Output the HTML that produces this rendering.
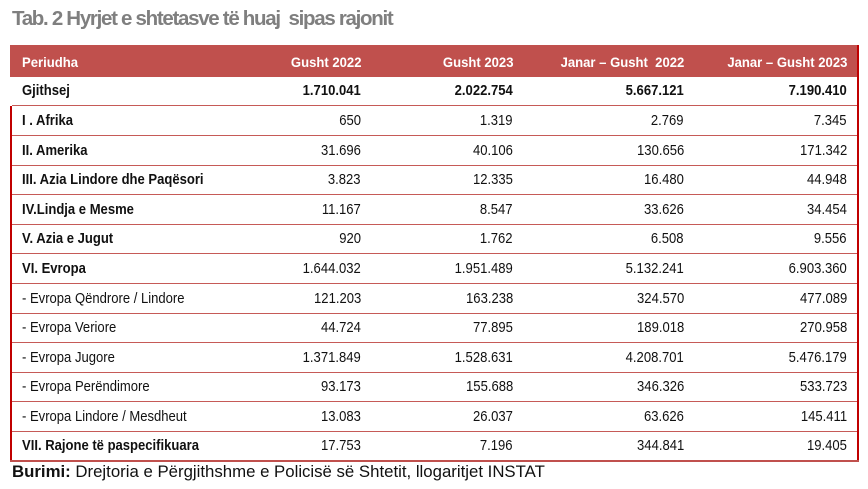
<!DOCTYPE html>
<html>
<head>
<meta charset="utf-8">
<style>
  html,body{margin:0;padding:0;background:#fff;}
  body{width:868px;height:489px;position:relative;overflow:hidden;font-family:"Liberation Sans",Arial,sans-serif;}
  .abs{position:absolute;}
  .title{left:12px;top:9px;font-size:20.5px;line-height:20.5px;font-weight:bold;color:#7f7f7f;letter-spacing:-1.3px;white-space:nowrap;}
  .hdr{left:10px;top:45px;width:848px;height:32px;background:#c0504d;}
  .hc{position:absolute;top:46px;height:32px;line-height:32px;font-size:14px;font-weight:bold;color:#fff;white-space:nowrap;}
  .hc span{display:inline-block;transform:scaleX(0.935);}
  .hl span{transform-origin:left center;}
  .hr span{transform-origin:right center;}
  .c{position:absolute;font-size:15px;color:#111;white-space:nowrap;}
  .c span{display:inline-block;transform:scaleX(0.87);}
  .l span{transform-origin:left center;}
  .r span{transform-origin:right center;}
  .b{font-weight:bold;}
  .line{position:absolute;left:12px;width:845px;height:1px;background:#c65a57;}
  .src{left:12px;top:463px;font-size:16.8px;line-height:17px;color:#111;white-space:nowrap;}
</style>
</head>
<body>
<div class="abs title">Tab. 2 Hyrjet e shtetasve të huaj&nbsp; sipas rajonit</div>

<div class="abs hdr"></div>
<div class="hc hl" style="left:22px;"><span>Periudha</span></div>
<div class="hc hr" style="right:507px;"><span>Gusht 2022</span></div>
<div class="hc hr" style="right:355px;"><span>Gusht 2023</span></div>
<div class="hc hr" style="right:184px;"><span>Janar – Gusht&nbsp; 2022</span></div>
<div class="hc hr" style="right:21px;"><span>Janar – Gusht 2023</span></div>

<!-- borders -->
<div class="abs" style="left:10px;top:106px;width:2px;height:356px;background:#c00000;"></div>
<div class="abs" style="left:857px;top:45px;width:2px;height:417px;background:#c00000;"></div>
<div class="abs" style="left:10px;top:460px;width:849px;height:2px;background:#c0504d;"></div>

<!-- row lines -->
<div class="line" style="top:105px;"></div>
<div class="line" style="top:135px;"></div>
<div class="line" style="top:165px;"></div>
<div class="line" style="top:194px;"></div>
<div class="line" style="top:224px;"></div>
<div class="line" style="top:253px;"></div>
<div class="line" style="top:283px;"></div>
<div class="line" style="top:313px;"></div>
<div class="line" style="top:342px;"></div>
<div class="line" style="top:372px;"></div>
<div class="line" style="top:401px;"></div>
<div class="line" style="top:431px;"></div>

<!-- Row 0 -->
<div class="c l b" style="left:22px;top:77px;height:28px;line-height:28px;"><span>Gjithsej</span></div>
<div class="c r b" style="right:507px;top:77px;height:28px;line-height:28px;"><span>1.710.041</span></div>
<div class="c r b" style="right:355px;top:77px;height:28px;line-height:28px;"><span>2.022.754</span></div>
<div class="c r b" style="right:184px;top:77px;height:28px;line-height:28px;"><span>5.667.121</span></div>
<div class="c r b" style="right:21px;top:77px;height:28px;line-height:28px;"><span>7.190.410</span></div>

<!-- Row 1 -->
<div class="c l b" style="left:22px;top:106px;height:29px;line-height:29px;"><span>I . Afrika</span></div>
<div class="c r" style="right:507px;top:106px;height:29px;line-height:29px;"><span>650</span></div>
<div class="c r" style="right:355px;top:106px;height:29px;line-height:29px;"><span>1.319</span></div>
<div class="c r" style="right:184px;top:106px;height:29px;line-height:29px;"><span>2.769</span></div>
<div class="c r" style="right:21px;top:106px;height:29px;line-height:29px;"><span>7.345</span></div>

<!-- Row 2 -->
<div class="c l b" style="left:22px;top:136px;height:29px;line-height:29px;"><span>II. Amerika</span></div>
<div class="c r" style="right:507px;top:136px;height:29px;line-height:29px;"><span>31.696</span></div>
<div class="c r" style="right:355px;top:136px;height:29px;line-height:29px;"><span>40.106</span></div>
<div class="c r" style="right:184px;top:136px;height:29px;line-height:29px;"><span>130.656</span></div>
<div class="c r" style="right:21px;top:136px;height:29px;line-height:29px;"><span>171.342</span></div>

<!-- Row 3 -->
<div class="c l b" style="left:22px;top:166px;height:28px;line-height:28px;"><span>III. Azia Lindore dhe Paqësori</span></div>
<div class="c r" style="right:507px;top:166px;height:28px;line-height:28px;"><span>3.823</span></div>
<div class="c r" style="right:355px;top:166px;height:28px;line-height:28px;"><span>12.335</span></div>
<div class="c r" style="right:184px;top:166px;height:28px;line-height:28px;"><span>16.480</span></div>
<div class="c r" style="right:21px;top:166px;height:28px;line-height:28px;"><span>44.948</span></div>

<!-- Row 4 -->
<div class="c l b" style="left:22px;top:195px;height:29px;line-height:29px;"><span>IV.Lindja e Mesme</span></div>
<div class="c r" style="right:507px;top:195px;height:29px;line-height:29px;"><span>11.167</span></div>
<div class="c r" style="right:355px;top:195px;height:29px;line-height:29px;"><span>8.547</span></div>
<div class="c r" style="right:184px;top:195px;height:29px;line-height:29px;"><span>33.626</span></div>
<div class="c r" style="right:21px;top:195px;height:29px;line-height:29px;"><span>34.454</span></div>

<!-- Row 5 -->
<div class="c l b" style="left:22px;top:225px;height:28px;line-height:28px;"><span>V. Azia e Jugut</span></div>
<div class="c r" style="right:507px;top:225px;height:28px;line-height:28px;"><span>920</span></div>
<div class="c r" style="right:355px;top:225px;height:28px;line-height:28px;"><span>1.762</span></div>
<div class="c r" style="right:184px;top:225px;height:28px;line-height:28px;"><span>6.508</span></div>
<div class="c r" style="right:21px;top:225px;height:28px;line-height:28px;"><span>9.556</span></div>

<!-- Row 6 -->
<div class="c l b" style="left:22px;top:254px;height:29px;line-height:29px;"><span>VI. Evropa</span></div>
<div class="c r" style="right:507px;top:254px;height:29px;line-height:29px;"><span>1.644.032</span></div>
<div class="c r" style="right:355px;top:254px;height:29px;line-height:29px;"><span>1.951.489</span></div>
<div class="c r" style="right:184px;top:254px;height:29px;line-height:29px;"><span>5.132.241</span></div>
<div class="c r" style="right:21px;top:254px;height:29px;line-height:29px;"><span>6.903.360</span></div>

<!-- Row 7 -->
<div class="c l" style="left:22px;top:284px;height:29px;line-height:29px;"><span>- Evropa Qëndrore / Lindore</span></div>
<div class="c r" style="right:507px;top:284px;height:29px;line-height:29px;"><span>121.203</span></div>
<div class="c r" style="right:355px;top:284px;height:29px;line-height:29px;"><span>163.238</span></div>
<div class="c r" style="right:184px;top:284px;height:29px;line-height:29px;"><span>324.570</span></div>
<div class="c r" style="right:21px;top:284px;height:29px;line-height:29px;"><span>477.089</span></div>

<!-- Row 8 -->
<div class="c l" style="left:22px;top:314px;height:28px;line-height:28px;"><span>- Evropa Veriore</span></div>
<div class="c r" style="right:507px;top:314px;height:28px;line-height:28px;"><span>44.724</span></div>
<div class="c r" style="right:355px;top:314px;height:28px;line-height:28px;"><span>77.895</span></div>
<div class="c r" style="right:184px;top:314px;height:28px;line-height:28px;"><span>189.018</span></div>
<div class="c r" style="right:21px;top:314px;height:28px;line-height:28px;"><span>270.958</span></div>

<!-- Row 9 -->
<div class="c l" style="left:22px;top:343px;height:29px;line-height:29px;"><span>- Evropa Jugore</span></div>
<div class="c r" style="right:507px;top:343px;height:29px;line-height:29px;"><span>1.371.849</span></div>
<div class="c r" style="right:355px;top:343px;height:29px;line-height:29px;"><span>1.528.631</span></div>
<div class="c r" style="right:184px;top:343px;height:29px;line-height:29px;"><span>4.208.701</span></div>
<div class="c r" style="right:21px;top:343px;height:29px;line-height:29px;"><span>5.476.179</span></div>

<!-- Row 10 -->
<div class="c l" style="left:22px;top:373px;height:28px;line-height:28px;"><span>- Evropa Perëndimore</span></div>
<div class="c r" style="right:507px;top:373px;height:28px;line-height:28px;"><span>93.173</span></div>
<div class="c r" style="right:355px;top:373px;height:28px;line-height:28px;"><span>155.688</span></div>
<div class="c r" style="right:184px;top:373px;height:28px;line-height:28px;"><span>346.326</span></div>
<div class="c r" style="right:21px;top:373px;height:28px;line-height:28px;"><span>533.723</span></div>

<!-- Row 11 -->
<div class="c l" style="left:22px;top:402px;height:29px;line-height:29px;"><span>- Evropa Lindore / Mesdheut</span></div>
<div class="c r" style="right:507px;top:402px;height:29px;line-height:29px;"><span>13.083</span></div>
<div class="c r" style="right:355px;top:402px;height:29px;line-height:29px;"><span>26.037</span></div>
<div class="c r" style="right:184px;top:402px;height:29px;line-height:29px;"><span>63.626</span></div>
<div class="c r" style="right:21px;top:402px;height:29px;line-height:29px;"><span>145.411</span></div>

<!-- Row 12 -->
<div class="c l b" style="left:22px;top:432px;height:28px;line-height:28px;"><span>VII. Rajone të paspecifikuara</span></div>
<div class="c r" style="right:507px;top:432px;height:28px;line-height:28px;"><span>17.753</span></div>
<div class="c r" style="right:355px;top:432px;height:28px;line-height:28px;"><span>7.196</span></div>
<div class="c r" style="right:184px;top:432px;height:28px;line-height:28px;"><span>344.841</span></div>
<div class="c r" style="right:21px;top:432px;height:28px;line-height:28px;"><span>19.405</span></div>

<div class="abs src"><b>Burimi:</b> Drejtoria e Përgjithshme e Policisë së Shtetit, llogaritjet INSTAT</div>
</body>
</html>
